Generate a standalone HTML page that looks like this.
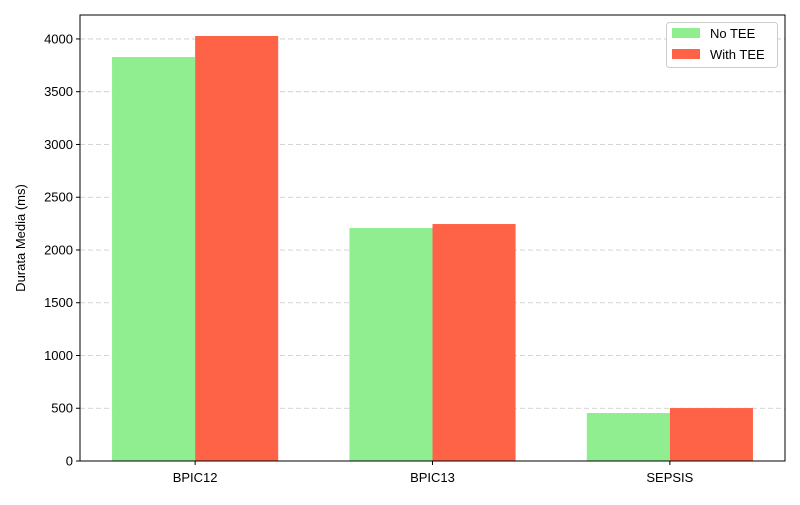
<!DOCTYPE html>
<html><head><meta charset="utf-8"><style>
body{margin:0;background:#fff;font-family:"Liberation Sans","DejaVu Sans",sans-serif;}
</style></head><body>
<svg id="chart" width="800" height="500" xmlns="http://www.w3.org/2000/svg"></svg>
<script>
const categories = ["BPIC12","BPIC13","SEPSIS"];
const noTee = [3829, 2208, 455];
const withTee = [4028, 2246, 502];
const yTicks = [0,500,1000,1500,2000,2500,3000,3500,4000];

const L=80,R=785,T=15,B=461;
const yMax=4227, xMin=-0.485, xMax=2.485, bw=0.35;
const y=v=>B-(v/yMax)*(B-T);
const x=v=>L+(v-xMin)/(xMax-xMin)*(R-L);
const svg=document.getElementById('chart');
const NS="http://www.w3.org/2000/svg";
function el(tag,attrs,parent){const e=document.createElementNS(NS,tag);for(const k in attrs)e.setAttribute(k,attrs[k]);(parent||svg).appendChild(e);return e;}

yTicks.forEach(t=>{
  const g=el('line',{x1:L,x2:R,y1:y(t),y2:y(t),stroke:'#c8c8c8','stroke-dasharray':'5,3','stroke-width':0.8});
  
  
});
categories.forEach((c,i)=>{
  const b1=el('rect',{x:x(i-bw),y:y(noTee[i]),width:x(i)-x(i-bw),height:B-y(noTee[i]),fill:'#90ee90'});
  
  
  const b2=el('rect',{x:x(i),y:y(withTee[i]),width:x(i+bw)-x(i),height:B-y(withTee[i]),fill:'#ff6347'});
  
  
  el('line',{x1:x(i),x2:x(i),y1:B,y2:B+4,stroke:'#000'});
  const t=el('text',{x:x(i),y:B+21,'text-anchor':'middle','font-size':13});
  t.textContent=c;
  
  
});
yTicks.forEach(v=>{
  el('line',{x1:L-4,x2:L,y1:y(v),y2:y(v),stroke:'#000'});
  const t=el('text',{x:L-7,y:y(v)+4.5,'text-anchor':'end','font-size':13});
  t.textContent=v;
  
  
});
const fr=el('rect',{x:L,y:T,width:R-L,height:B-T,fill:'none',stroke:'#000','stroke-width':1});


const yl=el('text',{x:0,y:0,transform:'translate(25,238) rotate(-90)','text-anchor':'middle','font-size':13});
yl.textContent='Durata Media (ms)';


const lg=el('g',{});


el('rect',{x:666.5,y:22.5,width:111,height:45,rx:3,fill:'#fff',stroke:'#ccc'},lg);
[['No TEE','#90ee90',33],['With TEE','#ff6347',54]].forEach(([n,c,yy])=>{
  el('rect',{x:672,y:yy-5,width:28,height:10,fill:c},lg);
  const t=el('text',{x:710,y:yy+5,'font-size':13},lg);
  t.textContent=n;
  
  
});
</script>
</body></html>
